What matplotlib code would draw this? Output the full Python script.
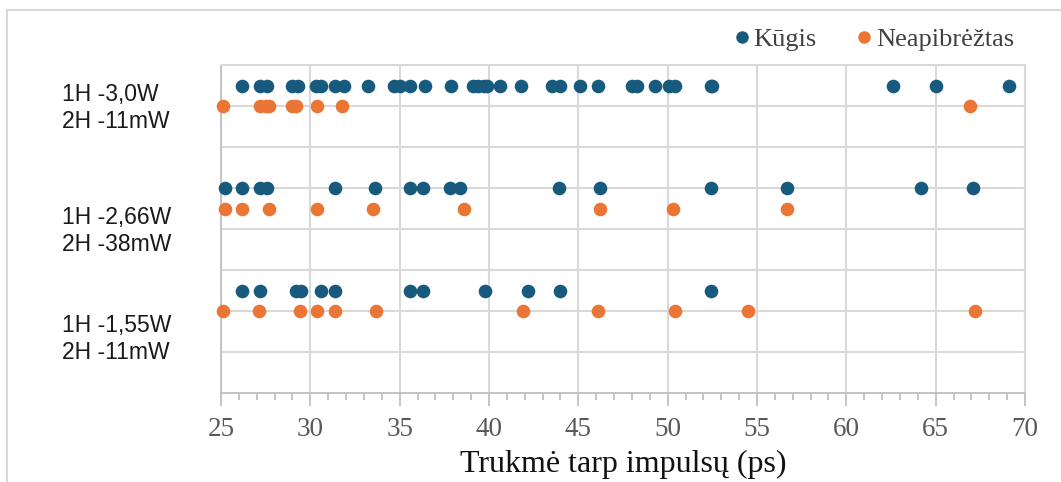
import numpy as np
import matplotlib.pyplot as plt
from matplotlib.lines import Line2D

# trukmės tarp impulsų (ps), kiekviena eilutė atskirai
kugis_1 = [26.2, 27.2, 27.6, 29.0, 29.3, 30.3, 30.6, 31.4, 31.9, 33.2, 34.7, 35.0,
           35.6, 36.4, 37.9, 39.1, 39.4, 39.7, 39.9, 40.6, 41.8, 43.5, 44.0, 45.1,
           46.1, 48.0, 48.3, 49.3, 50.1, 50.4, 52.4, 52.5, 62.6, 65.0, 69.1]
neapibr_1 = [25.1, 27.2, 27.5, 27.7, 29.0, 29.2, 30.4, 31.8, 66.9]

kugis_2 = [25.2, 26.2, 27.2, 27.6, 31.4, 33.6, 35.6, 36.3, 37.8, 38.4, 43.9, 46.2,
           52.4, 56.7, 64.2, 67.1]
neapibr_2 = [25.2, 26.2, 27.7, 30.4, 33.5, 38.6, 46.2, 50.3, 56.7]

kugis_3 = [26.2, 27.2, 29.2, 29.5, 30.6, 31.4, 35.6, 36.3, 39.8, 42.2, 44.0, 52.4]
neapibr_3 = [25.1, 27.1, 29.4, 30.4, 31.4, 33.7, 41.9, 46.1, 50.4, 54.5, 67.2]

row_y_kugis = [7.5, 5.0, 2.5]
row_y_neapibr = [7.0, 4.5, 2.0]
row_labels = ["1H -3,0W\n2H -11mW", "1H -2,66W\n2H -38mW", "1H -1,55W\n2H -11mW"]
label_y = [6.96, 3.95, 1.32]

blue = "#175a7d"
orange = "#eb7534"
grid_c = "#d9d9d9"

fig = plt.figure(figsize=(10.61, 4.82), dpi=100)
ax = fig.add_axes([221 / 1061, 1 - 393 / 482, (1025 - 221) / 1061, (393 - 65) / 482])

for k, n, yk, yn in zip([kugis_1, kugis_2, kugis_3], [neapibr_1, neapibr_2, neapibr_3],
                        row_y_kugis, row_y_neapibr):
    ax.plot(k, [yk] * len(k), "o", color=blue, ms=9.8, mew=0, zorder=3, clip_on=False)
    ax.plot(n, [yn] * len(n), "o", color=orange, ms=9.8, mew=0, zorder=3, clip_on=False)

ax.set_xlim(25, 70)
ax.set_ylim(0, 8)
ax.set_xticks(np.arange(25, 71, 5))
ax.set_xticks(np.arange(25, 71, 1), minor=True)
ax.set_yticks(np.arange(1, 9, 1))
ax.grid(True, color=grid_c, lw=1.5)
ax.set_axisbelow(True)
ax.tick_params(axis="y", left=False, labelleft=False)
ax.tick_params(axis="x", which="both", direction="out", color="#bfbfbf", width=1.3,
               labelsize=19.5, labelcolor="#595959", pad=8)
ax.tick_params(axis="x", which="major", length=9)
ax.tick_params(axis="x", which="minor", length=5)
for lbl in ax.get_xticklabels():
    lbl.set_family("Liberation Serif")

for s in ["top", "right"]:
    ax.spines[s].set_color(grid_c)
    ax.spines[s].set_linewidth(1.5)
ax.spines["left"].set_color("#bfbfbf")
ax.spines["bottom"].set_color("#bfbfbf")
ax.spines["left"].set_linewidth(1.3)
ax.spines["bottom"].set_linewidth(1.3)

ax.set_xlabel("Trukmė tarp impulsų (ps)", family="Liberation Serif", fontsize=23,
              color="#111111", labelpad=6)

for txt, y in zip(row_labels, label_y):
    ax.text(-0.198, y, txt, transform=ax.get_yaxis_transform(), ha="left", va="center",
            fontsize=16.5, family="Liberation Sans", linespacing=1.22, color="#1a1a1a")

handles = [Line2D([], [], marker="o", ls="", color=blue, ms=9, mew=0),
           Line2D([], [], marker="o", ls="", color=orange, ms=9, mew=0)]
fig.legend(handles, ["Kūgis", "Neapibrėžtas"], loc="center", bbox_to_anchor=(0.815, 0.918),
           ncol=2, frameon=False, handletextpad=-0.55, columnspacing=0.8,
           prop={"family": "Liberation Serif", "size": 19}, labelcolor="#404040")

# rėmelis aplink paveikslą
fig.add_artist(Line2D([7 / 1061, 7 / 1061], [0, 1 - 10 / 482], color=grid_c, lw=1.5))
fig.add_artist(Line2D([7 / 1061, 1], [1 - 10 / 482, 1 - 10 / 482], color=grid_c, lw=1.5))

fig.savefig("out.png", dpi=100)
